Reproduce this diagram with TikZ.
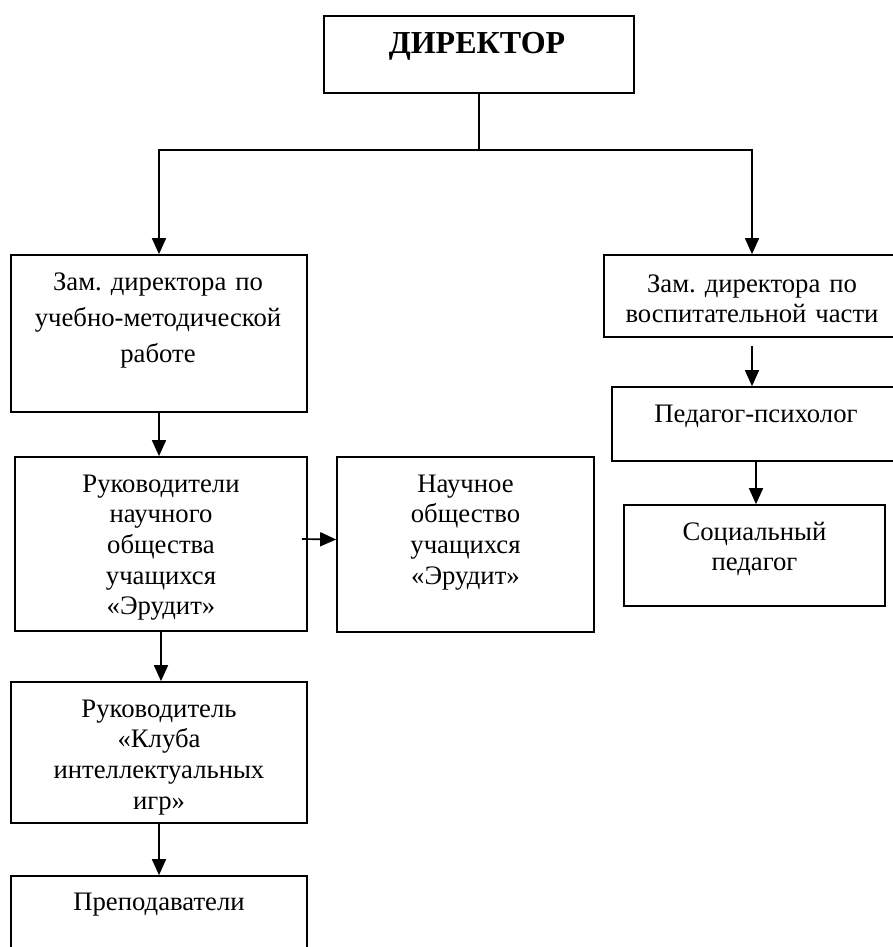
\documentclass[tikz,border=0pt]{standalone}
\usepackage{fontspec}
\setmainfont{Liberation Serif}
\usetikzlibrary{arrows.meta}
\frenchspacing

\begin{document}
\begin{tikzpicture}[x=1pt, y=-1pt,
    font=\fontsize{26.7}{30.7}\selectfont,
    box/.style={draw, line width=1.7pt, inner sep=0pt},
    txt/.style={align=center, anchor=base, inner sep=0pt},
    arr/.style={-{Triangle[length=16pt, width=14pt]}, line width=1.7pt},
    link/.style={line width=1.7pt},
  ]
  \clip (0,0) rectangle (893,947);
  % ── рамки ──
  \node[box, minimum width=310pt, minimum height=77pt]  (dir)   at (479,54.5)   {};
  \node[box, minimum width=296pt, minimum height=157pt] (zam1)  at (159,333.5)  {};
  \node[box, minimum width=292pt, minimum height=174pt] (ruk)   at (161,544)    {};
  \node[box, minimum width=257pt, minimum height=175pt] (nauch) at (465.5,544.5) {};
  \node[box, minimum width=296pt, minimum height=141pt] (rukl)  at (159,752.5)  {};
  \node[box, minimum width=296pt, minimum height=104pt] (prep)  at (159,928)    {};
  \node[box, minimum width=296pt, minimum height=82pt]  (zam2)  at (752,296)    {};
  \node[box, minimum width=288pt, minimum height=74pt]  (ped)   at (756,424)    {};
  \node[box, minimum width=261pt, minimum height=101pt] (soc)   at (754.5,555.5) {};
  % ── надписи ──
  \node[txt, text width=300pt, font=\fontsize{32}{36}\selectfont\bfseries] (dirT) at (477,54) {ДИРЕКТОР};
  \node[txt, text width=290pt, font=\fontsize{26.7}{36}\selectfont] (zam1T) at (158,290)
    {Зам. директора по\\учебно-методической\\работе};
  \node[txt, text width=280pt] (rukT) at (161,492)
    {Руководители\\научного\\общества\\учащихся\\«Эрудит»};
  \node[txt, text width=245pt] (nauchT) at (465.5,492)
    {Научное\\общество\\учащихся\\«Эрудит»};
  \node[txt, text width=285pt] (ruklT) at (159,717)
    {Руководитель\\«Клуба\\интеллектуальных\\игр»};
  \node[txt, text width=285pt] (prepT) at (159,910) {Преподаватели};
  \node[txt, text width=290pt] (zam2T) at (752,292)
    {Зам. директора по\\воспитательной части};
  \node[txt, text width=280pt] (pedT) at (756,422) {Педагог-психолог};
  \node[txt, text width=250pt] (socT) at (754.5,540) {Социальный\\педагог};
  % ── связи ──
  \draw[link] (dir.south) -- ++(0,56) coordinate (split);
  \draw[arr] (split) -| (zam1.north);
  \draw[arr] (split) -| (zam2.north);
  \foreach \a/\b in {zam1/ruk, ruk/rukl, rukl/prep, ped/soc}
    \draw[arr] (\a.south) -- (\a.south |- \b.north);
  \draw[arr, shorten <=8pt] (zam2.south) -- (zam2.south |- ped.north);
  \draw[arr] ([xshift=-6pt, yshift=5pt]ruk.east) -- ([yshift=5pt]nauch.west);
\end{tikzpicture}
\end{document}
